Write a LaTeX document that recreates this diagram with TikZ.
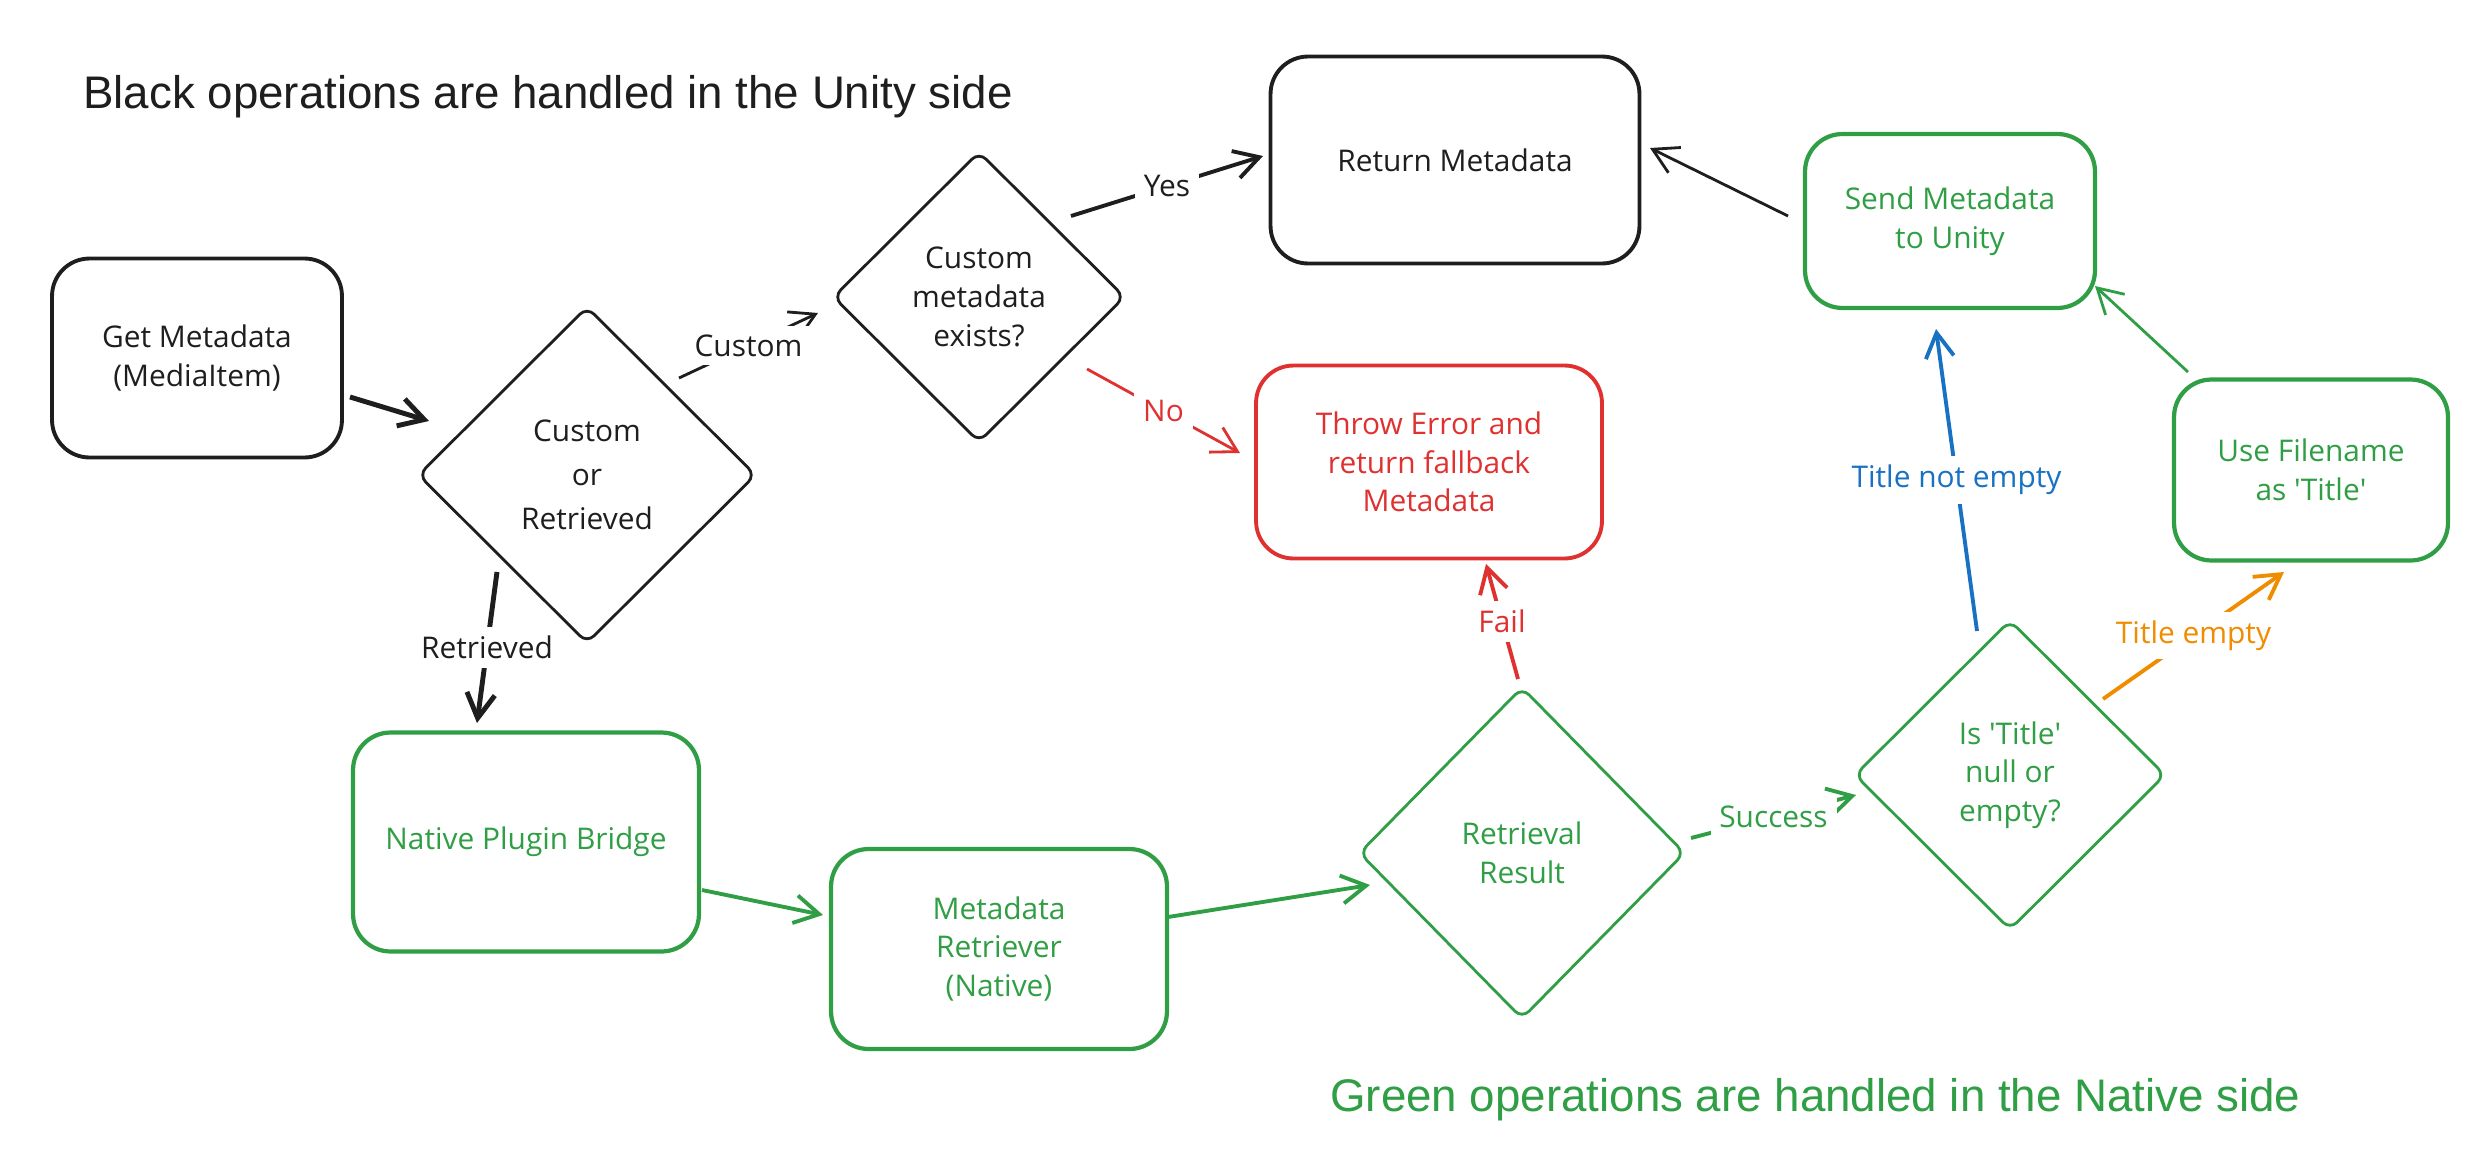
\documentclass[tikz,border=0pt]{standalone}
\usepackage{fontspec}
\setmainfont{Open Sans}
\newfontfamily\headfont{Liberation Sans}
\usetikzlibrary{arrows.meta,shapes.geometric,calc}
\definecolor{ink}{HTML}{1E1E1E}
\definecolor{grn}{HTML}{2F9E44}
\definecolor{errred}{HTML}{E03131}
\definecolor{blu}{HTML}{1971C2}
\definecolor{org}{HTML}{F08C00}
\newcommand{\sq}{\textquotesingle}
\begin{document}
\begin{tikzpicture}[x=0.02cm,y=-0.02cm,
  txt/.style={font=\fontsize{17}{22}\selectfont},
  box/.style={draw, rounded corners=0.75cm, line width=2.2pt, align=center, txt, inner sep=0pt},
  dia/.style={draw, diamond, rounded corners=0.2cm, line width=1.6pt, align=center, txt, inner sep=0pt},
  arr/.style={line width=1.6pt, -{Straight Barb[length=14pt,width=16pt]}},
  thick arr/.style={line width=2.8pt, -{Straight Barb[length=14pt,width=16pt]}},
  lbl/.style={fill=white, txt, inner sep=5pt},
  head/.style={font=\headfont\fontsize{26}{30}\selectfont, anchor=west, inner sep=0pt}
]
\useasboundingbox (0,0) rectangle (2492,1153);

% headings
\node[head, text=ink] (hblack) at (83,97) {Black operations are handled in the Unity side};
\node[head, text=grn] (hgreen) at (1330,1100) {Green operations are handled in the Native side};

% boxes
\node[box, draw=ink, text=ink, minimum width=5.80cm, minimum height=3.98cm] (gm) at (197,358) {Get Metadata\\(MediaItem)};
\node[box, draw=ink, text=ink, minimum width=7.38cm, minimum height=4.14cm] (ret) at (1455,160) {Return Metadata};
\node[box, draw=errred, text=errred, minimum width=6.92cm, minimum height=3.86cm] (thr) at (1429,462) {Throw Error and\\return fallback\\Metadata};
\node[box, draw=grn, text=grn, line width=2.4pt, minimum width=5.80cm, minimum height=3.48cm] (send) at (1950,221) {Send Metadata\\to Unity};
\node[box, draw=grn, text=grn, line width=2.4pt, minimum width=5.48cm, minimum height=3.62cm] (use) at (2311,470) {Use Filename\\as \sq Title\sq};
\node[box, draw=grn, text=grn, line width=2.4pt, minimum width=6.92cm, minimum height=4.38cm] (npb) at (526,842) {Native Plugin Bridge};
\node[box, draw=grn, text=grn, line width=2.4pt, minimum width=6.72cm, minimum height=4.00cm] (mr) at (999,949) {Metadata\\Retriever\\(Native)};

% diamonds
\node[dia, draw=ink, text=ink, minimum width=6.76cm, minimum height=6.74cm, font=\fontsize{17}{25}\selectfont] (cor) at (587,475) {Custom\\or\\Retrieved};
\node[dia, draw=ink, text=ink, minimum width=5.84cm, minimum height=5.82cm] (cme) at (979,297) {Custom\\metadata\\exists?};
\node[dia, draw=grn, text=grn, minimum width=6.52cm, minimum height=6.64cm] (rr) at (1522,853) {Retrieval\\Result};
\node[dia, draw=grn, text=grn, minimum width=6.22cm, minimum height=6.20cm] (ist) at (2010,775) {Is \sq Title\sq\\null or\\empty?};

% connectors
\draw[thick arr, ink] ($(gm)+(153,39)$) -- ($(cor)+(-158,-54)$);
\draw[arr, ink] ($(cor)+(92,-97)$) -- node[lbl, text=ink] (lcustom) {Custom} ($(cme)+(-161,16)$);
\draw[arr, ink, line width=2.2pt] ($(cme)+(92,-81)$) -- node[lbl, text=ink] (lyes) {Yes} ($(ret)+(-192,-4)$);
\draw[arr, errred] ($(cme)+(108,72)$) -- node[lbl, text=errred] (lno) {No} ($(thr)+(-189,-9)$);
\draw[thick arr, ink] ($(cor)+(-90,97)$) -- node[lbl, text=ink] (lretr) {Retrieved} ($(npb)+(-49,-119)$);
\draw[arr, grn, line width=2.2pt] ($(npb)+(176,48)$) -- ($(mr)+(-176,-34)$);
\draw[arr, grn, line width=2.2pt] ($(mr)+(169,-32)$) -- ($(rr)+(-152,32)$);
\draw[arr, errred, line width=2.2pt] ($(rr)+(-4,-174)$) -- node[lbl, text=errred] (lfail) {Fail} ($(thr)+(57,102)$);
\draw[arr, grn, line width=2.2pt] ($(rr)+(169,-15)$) -- node[lbl, text=grn] (lsucc) {Success} ($(ist)+(-154,20)$);
\draw[arr, blu, line width=2.2pt] ($(ist)+(-33,-144)$) -- node[lbl, text=blu] (lnot) {Title not empty} ($(send)+(-14,108)$);
\draw[arr, org, line width=2.2pt] ($(ist)+(93,-76)$) -- node[lbl, text=org] (lempty) {Title empty} ($(use)+(-27,102)$);
\draw[arr, grn] ($(use)+(-123,-98)$) -- ($(send)+(145,65)$);
\draw[arr, ink] ($(send)+(-162,-5)$) -- ($(ret)+(195,-12)$);
\end{tikzpicture}
\end{document}
